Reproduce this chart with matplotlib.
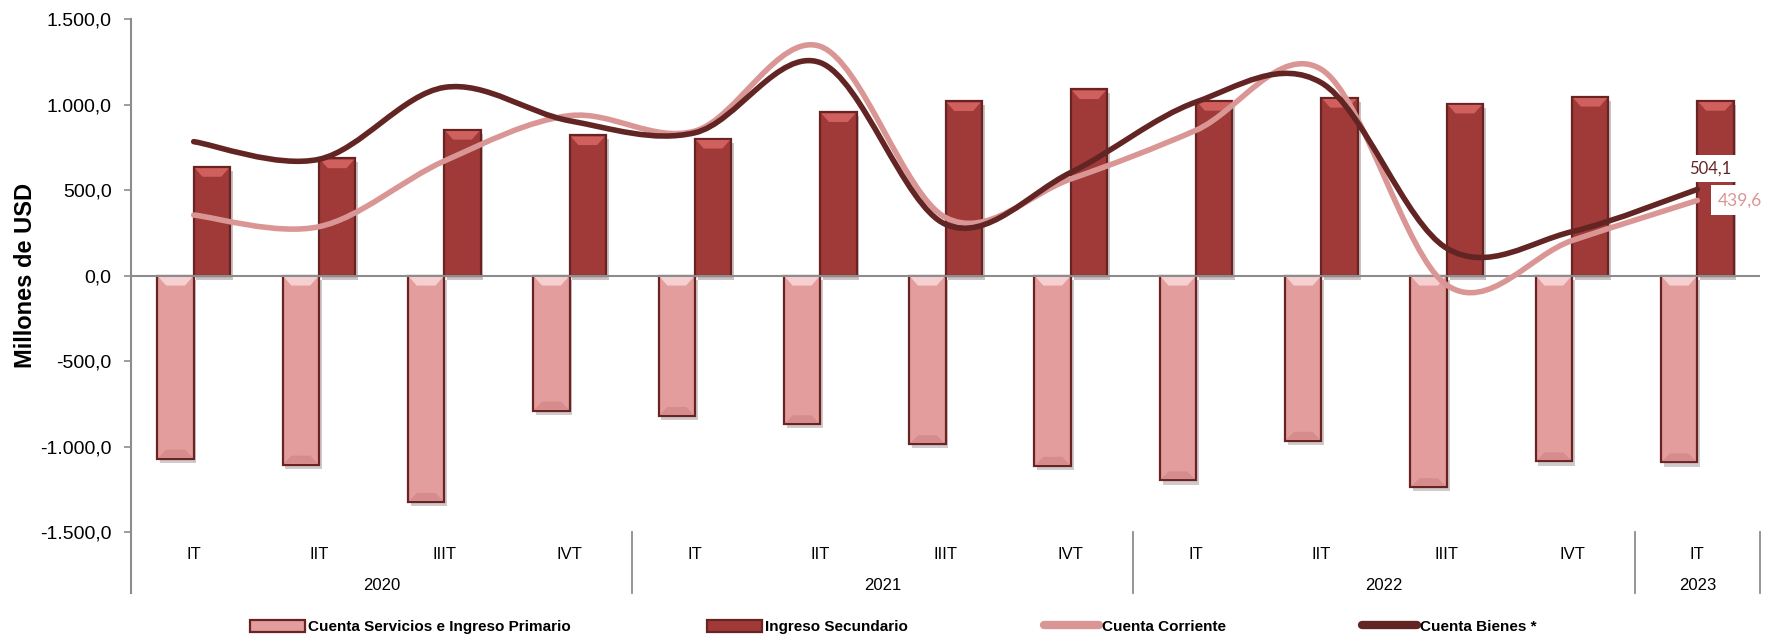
import numpy as np
import matplotlib
matplotlib.use("Agg")
from matplotlib import pyplot as plt
from matplotlib.path import Path
from matplotlib.patches import PathPatch, Patch
from matplotlib.lines import Line2D
from matplotlib.ticker import FuncFormatter
import matplotlib.patheffects as pe

# datos (millones de USD)
trimestres = ["IT", "IIT", "IIIT", "IVT", "IT", "IIT", "IIIT", "IVT", "IT", "IIT", "IIIT", "IVT", "IT"]
anios = ["2020", "2021", "2022", "2023"]
anio_inicio = [0, 4, 8, 12]   # primer trimestre de cada anio
anio_fin = [3, 7, 11, 12]

servicios = [-1070, -1105, -1323, -789, -821, -869, -986, -1112, -1197, -966, -1237, -1086, -1092]
secundario = [636, 686, 853, 821, 801, 956, 1020, 1090, 1022, 1040, 1006, 1046, 1022]
corriente = [354, 286, 670, 935, 845, 1340, 340, 565, 850, 1205, -55, 205, 439.6]
bienes = [783, 680, 1100, 905, 835, 1245, 300, 603, 1015, 1127, 160, 257, 504.1]

# colores
C_SERV = "#E49D9D"
C_SERV_LUZ = "#F6D0D0"
C_SERV_SOMB = "#D68C8C"
C_SEC = "#9F3A38"
C_SEC_LUZ = "#D0605E"
C_BORDE = "#682322"
C_CORR = "#DA9694"
C_BIEN = "#632523"
C_EJE = "#8C8C8C"

plt.rcParams['font.family'] = ['Liberation Sans', 'DejaVu Sans']


def fmt_es(v, pos=None):
    s = "{:,.1f}".format(v)
    return s.replace(",", "X").replace(".", ",").replace("X", ".")


def curva_suave(xs, ys):
    """
    curva bezier suavizada (como la linea suavizada de excel)
    """
    pts = np.column_stack([xs, ys]).astype(float)
    n = len(pts)
    verts = [pts[0]]
    codes = [Path.MOVETO]
    for i in range(n - 1):
        p0 = pts[max(i - 1, 0)]
        p1 = pts[i]
        p2 = pts[i + 1]
        p3 = pts[min(i + 2, n - 1)]
        verts += [p1 + (p2 - p0) / 6, p2 - (p3 - p1) / 6, p2]
        codes += [Path.CURVE4] * 3
    return Path(verts, codes)


def bisel(ax, x0, x1, y, prof, color, d=0.07):
    # trapecio de bisel: base en y, hacia dentro una profundidad prof
    ax.fill([x0 + 0.01, x1 - 0.01, x1 - d, x0 + d], [y, y, y + prof, y + prof],
            color=color, lw=0, zorder=2.1)


fig = plt.figure(figsize=(17.66, 6.37), dpi=100)
ax = fig.add_axes([0.0742, 0.1644, 0.9224, 0.8058])

x = np.arange(len(trimestres))
w = 0.29
sombra = [pe.SimplePatchShadow(offset=(2, -3), alpha=0.25), pe.Normal()]

b1 = ax.bar(x - w / 2, servicios, w, color=C_SERV, edgecolor=C_BORDE, linewidth=1.6, zorder=2)
b2 = ax.bar(x + w / 2, secundario, w, color=C_SEC, edgecolor=C_BORDE, linewidth=1.6, zorder=2)
for b in list(b1) + list(b2):
    b.set_path_effects(sombra)

# efecto de bisel en las barras
for i in x:
    bisel(ax, i - w, i, -8, -50, C_SERV_LUZ)
    bisel(ax, i - w, i, servicios[i] + 8, 45, C_SERV_SOMB)
    bisel(ax, i, i + w, secundario[i] - 8, -50, C_SEC_LUZ)

# lineas suavizadas
ax.add_patch(PathPatch(curva_suave(x, corriente), fill=False, edgecolor=C_CORR, lw=4.0,
                       capstyle='round', zorder=3))
ax.add_patch(PathPatch(curva_suave(x, bienes), fill=False, edgecolor=C_BIEN, lw=4.0,
                       capstyle='round', zorder=4))

# etiquetas del ultimo dato
ax.annotate(fmt_es(bienes[-1]), xy=(x[-1], bienes[-1]), xytext=(9, 15), textcoords='offset points',
            ha='center', va='center', fontsize=12, color=C_BIEN, family=['Lato', 'DejaVu Sans'],
            bbox=dict(boxstyle='square,pad=0.35', fc='white', ec='none'), zorder=5)
ax.annotate(fmt_es(corriente[-1]), xy=(x[-1], corriente[-1]), xytext=(31, 0), textcoords='offset points',
            ha='center', va='center', fontsize=12.5, color=C_CORR, family=['Lato', 'DejaVu Sans'],
            bbox=dict(boxstyle='square,pad=0.4', fc='white', ec='none'), zorder=5)

# ejes
ax.set_xlim(-0.5, len(x) - 0.5)
ax.set_ylim(-1500, 1500)
ax.set_yticks(np.arange(-1500, 1501, 500))
ax.yaxis.set_major_formatter(FuncFormatter(fmt_es))
ax.tick_params(axis='y', length=5, width=1.2, color=C_EJE, pad=9, labelsize=14)
ax.set_xticks([])
for s in ['top', 'right', 'bottom', 'left']:
    ax.spines[s].set_visible(False)
ax.axhline(0, color=C_EJE, lw=1.5, zorder=2.5)
ax.plot([0, 0], [1, -0.119], transform=ax.transAxes, color=C_EJE, lw=1.5, clip_on=False)

ax.set_ylabel("Millones de USD", fontsize=17, fontweight='bold')
ax.yaxis.set_label_coords(-0.058, 0.5)

# eje de categorias en dos niveles
tr = ax.get_xaxis_transform()
for i, t in enumerate(trimestres):
    ax.text(x[i], -0.044, t, transform=tr, ha='center', va='center', fontsize=12)
for a, i0, i1 in zip(anios, anio_inicio, anio_fin):
    ax.text((i0 + i1) / 2, -0.104, a, transform=tr, ha='center', va='center', fontsize=12)
    ax.plot([i1 + 0.5, i1 + 0.5], [0, -0.119], transform=tr, color=C_EJE, lw=1.3, clip_on=False)

# leyenda
handles = [
    Patch(facecolor=C_SERV, edgecolor=C_BORDE, linewidth=1.6),
    Patch(facecolor=C_SEC, edgecolor=C_BORDE, linewidth=1.6),
    Line2D([], [], color=C_CORR, lw=6, solid_capstyle='round'),
    Line2D([], [], color=C_BIEN, lw=6, solid_capstyle='round'),
]
labels = ["Cuenta Servicios e Ingreso Primario", "Ingreso Secundario", "Cuenta Corriente", "Cuenta Bienes *"]
fig.legend(handles, labels, loc='center', bbox_to_anchor=(0.506, 0.016), ncol=4, frameon=False,
           prop={'size': 11, 'weight': 'bold'}, handlelength=3.6, handleheight=0.9,
           handletextpad=0.2, columnspacing=8.9)

fig.savefig("out.png", dpi=100)
